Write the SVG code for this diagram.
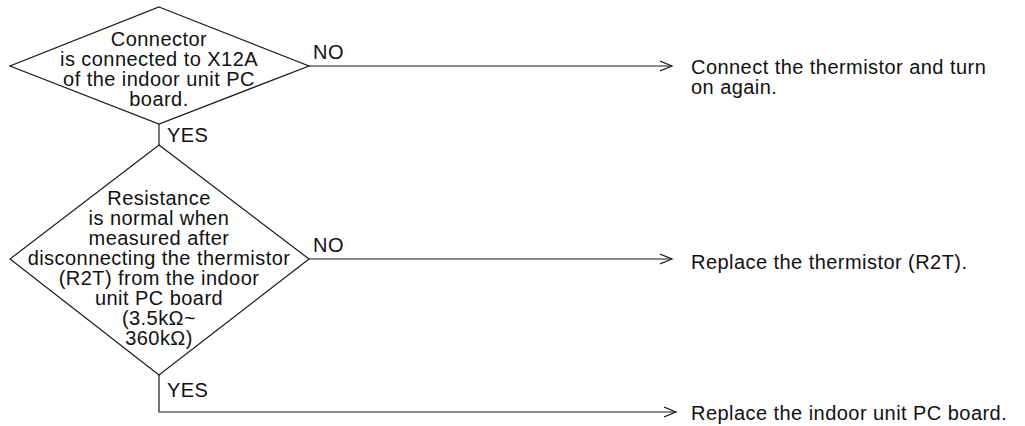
<svg xmlns="http://www.w3.org/2000/svg" width="1025" height="426" viewBox="0 0 1025 426">
<style>
.s{fill:#fff;stroke:#1a1a1a;stroke-width:1.2}
.c{fill:none;stroke:#1a1a1a;stroke-width:1.2}
text{font-family:"Liberation Sans",Arial,Helvetica,sans-serif;font-size:20px;letter-spacing:0.45px;fill:#111}
.m{text-anchor:middle}
</style>
<defs>
<marker id="ah" markerWidth="14" markerHeight="12" refX="12" refY="6" orient="auto" markerUnits="userSpaceOnUse">
<path d="M0,1 L12,6 L0,11" fill="none" stroke="#1a1a1a" stroke-width="1.2"/>
</marker>
</defs>
<g id="connectors">
<path class="c" d="M159,124 V145"/>
<path class="c" d="M309,66 H672" marker-end="url(#ah)"/>
<path class="c" d="M309,259 H672" marker-end="url(#ah)"/>
<path class="c" d="M159,375 V412 H676" marker-end="url(#ah)"/>
<text x="313" y="59">NO</text>
<text x="167" y="142">YES</text>
<text x="313" y="252">NO</text>
<text x="167" y="397">YES</text>
</g>
<g id="d1">
<polygon class="s" points="159,7 309,66 159,124 10,66"/>
<text class="m" x="159" y="46">Connector</text>
<text class="m" x="159" y="66">is connected to X12A</text>
<text class="m" x="159" y="86">of the indoor unit PC</text>
<text class="m" x="159" y="106">board.</text>
</g>
<g id="d2">
<polygon class="s" points="159,145 309,259 159,375 10,259"/>
<text class="m" x="159" y="205">Resistance</text>
<text class="m" x="159" y="225">is normal when</text>
<text class="m" x="159" y="245">measured after</text>
<text class="m" x="159" y="265">disconnecting the thermistor</text>
<text class="m" x="159" y="285">(R2T) from the indoor</text>
<text class="m" x="159" y="305">unit PC board</text>
<text class="m" x="159" y="325">(3.5kΩ~</text>
<text class="m" x="159" y="345">360kΩ)</text>
</g>
<g id="r1">
<text x="691" y="74">Connect the thermistor and turn</text>
<text x="691" y="94">on again.</text>
</g>
<g id="r2">
<text x="691" y="269">Replace the thermistor (R2T).</text>
</g>
<g id="r3">
<text x="691" y="420">Replace the indoor unit PC board.</text>
</g>
</svg>
